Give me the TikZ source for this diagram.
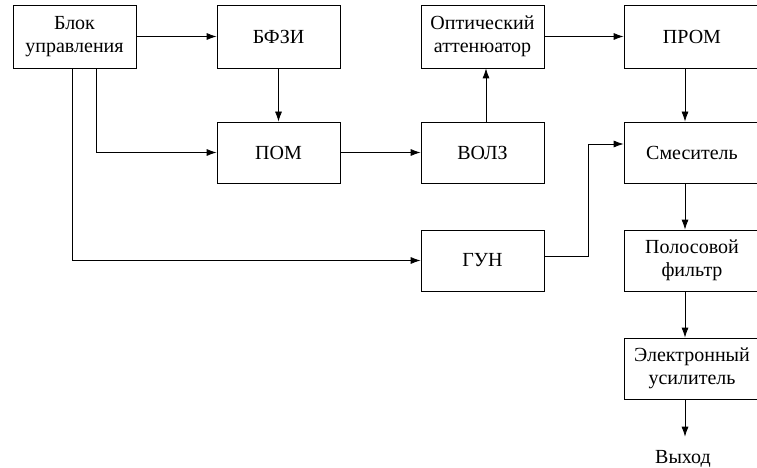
\documentclass[tikz,border=0pt]{standalone}
\usepackage{fontspec}
\setmainfont{Liberation Serif}
\newfontfamily\tnrfont{Liberation Serif}
\usetikzlibrary{arrows.meta,positioning}
\begin{document}
\begin{tikzpicture}[x=1pt,y=-1pt,
  blockbox/.style={draw,line width=0.8pt,minimum height=63pt,inner sep=2pt,align=center,
    font=\tnrfont\fontsize{20}{23}\selectfont},
  conn/.style={line width=0.8pt,-{Latex[length=10pt,width=7pt]}}]
\useasboundingbox (0,0) rectangle (757,468);
\node[blockbox,minimum width=123pt] (blk) at (74.5,36.5) {Блок\\управления};
\node[blockbox,minimum width=123pt] (bfzi) at (278.5,36.5) {БФЗИ};
\node[blockbox,minimum width=123pt] (opt) at (482.5,36.5) {Оптический\\аттенюатор};
\node[blockbox,minimum width=136pt] (prom) at (692,36.5) {ПРОМ};
\node[blockbox,minimum width=123pt,minimum height=61pt] (pom) at (278.5,152.5) {ПОМ};
\node[blockbox,minimum width=123pt,minimum height=61pt] (volz) at (482.5,152.5) {ВОЛЗ};
\node[blockbox,minimum width=136pt,minimum height=61pt] (mix) at (692,152.5) {Смеситель};
\node[blockbox,minimum width=123pt,minimum height=61pt] (gun) at (482.5,260.5) {ГУН};
\node[blockbox,minimum width=136pt,minimum height=61pt] (filt) at (692,260.5) {Полосовой\\фильтр};
\node[blockbox,minimum width=136pt,minimum height=61pt] (amp) at (692,368.5) {Электронный\\усилитель};
\node[font=\tnrfont\fontsize{20}{23}\selectfont,inner sep=0pt,anchor=base] (out) at (683,463) {Выход};
\coordinate (colR) at (685,0);
\coordinate (cA) at (96,0);
\coordinate (cB) at (72,0);
\coordinate (cG) at (588,0);
\coordinate (cV) at (486,0);
\draw[conn] (blk.east) -- (bfzi.west);
\draw[conn] (bfzi.south) -- (pom.north);
\draw[conn] (blk.south -| cA) |- (pom.west);
\draw[conn] (blk.south -| cB) |- (gun.west);
\draw[conn] (pom.east) -- (volz.west);
\draw[conn] (volz.north -| cV) -- (opt.south -| cV);
\draw[conn] (opt.east) -- (prom.west);
\draw[conn] (prom.south -| colR) -- (mix.north -| colR);
\draw[conn] ([yshift=4.5pt]gun.east) -| ([yshift=8.5pt]mix.west -| cG) -- ([yshift=8.5pt]mix.west);
\draw[conn] (mix.south -| colR) -- (filt.north -| colR);
\draw[conn] (filt.south -| colR) -- (amp.north -| colR);
\draw[conn] (amp.south -| colR) -- ([yshift=13pt]out.north -| colR);
\end{tikzpicture}
\end{document}
